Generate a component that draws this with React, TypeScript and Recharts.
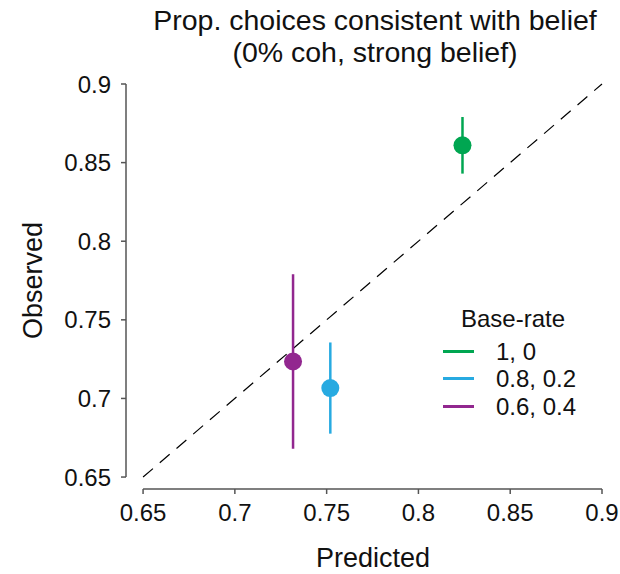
import React from 'react';
import {
  ComposedChart, Scatter, ErrorBar, XAxis, YAxis, ReferenceLine, Label,
} from 'recharts';

const seriesNames = ['1, 0', '0.8, 0.2', '0.6, 0.4'];
const seriesColors = ['#00a651', '#27aae1', '#92278f'];
const predicted = [0.824, 0.752, 0.7317];
const observed = [0.861, 0.7066, 0.7235];
const errors = [0.018, 0.029, 0.0555];

const xTicks = [0.65, 0.7, 0.75, 0.8, 0.85, 0.9];
const yTicks = [0.65, 0.7, 0.75, 0.8, 0.85, 0.9];
// axis lines sit a little outside the data range, like the original figure
const xMin = 0.6407;
const yMin = 0.6424;

const font = 'Liberation Sans, Arial, Helvetica, sans-serif';
const axisColor = '#555';

const dot = (props: any) => <circle cx={props.cx} cy={props.cy} r={9} fill={props.fill} />;

function BaseRateLegend() {
  return (
    <div style={{
      position: 'absolute', left: 443, top: 305, fontFamily: font, fontSize: 24,
      color: '#111', lineHeight: '27.5px',
    }}>
      <div style={{ paddingLeft: 18 }}>Base-rate</div>
      <div style={{ height: 5 }} />
      {seriesNames.map((n, i) => (
        <div key={n} style={{ display: 'flex', alignItems: 'center' }}>
          <span style={{ display: 'inline-block', width: 31, height: 3, background: seriesColors[i], marginRight: 22 }} />
          <span>{n}</span>
        </div>
      ))}
    </div>
  );
}

export default function App() {
  return (
    <div style={{ position: 'absolute', left: 0, top: 0, width: 620, height: 574, background: '#fff' }}>
      <div style={{
        position: 'absolute', left: 130, width: 490, top: 4, textAlign: 'center',
        fontFamily: font, fontSize: 28.5, lineHeight: '32px', color: '#111', zIndex: 2,
      }}>
        Prop. choices consistent with belief<br />(0% coh, strong belief)
      </div>
      <ComposedChart width={620} height={574} margin={{ top: 84, right: 18, left: 26, bottom: 45 }}>
        <XAxis
          type="number" dataKey="x" domain={[xMin, 0.9]} ticks={xTicks} allowDataOverflow
          axisLine={false} tickLine={{ stroke: axisColor, strokeWidth: 1.5 }} tickSize={5} tickMargin={10}
          tick={{ fontSize: 24, fill: '#111', fontFamily: font }} height={40}
          tickFormatter={(v) => String(v)}
        >
          <Label value="Predicted" position="insideBottom" offset={-38} dx={9}
            style={{ fontSize: 27, fill: '#111', fontFamily: font }} />
        </XAxis>
        <YAxis
          type="number" dataKey="y" domain={[yMin, 0.9]} ticks={yTicks} allowDataOverflow
          axisLine={false} tickLine={{ stroke: axisColor, strokeWidth: 1.5 }} tickSize={5} tickMargin={10}
          tick={{ fontSize: 24, fill: '#111', fontFamily: font }} width={100}
          tickFormatter={(v) => String(v)}
        >
          <Label value="Observed" angle={-90} position="insideLeft" offset={6} dy={-6}
            style={{ fontSize: 27, fill: '#111', fontFamily: font, textAnchor: 'middle' }} />
        </YAxis>
        <ReferenceLine segment={[{ x: 0.65, y: yMin }, { x: 0.9, y: yMin }]} stroke={axisColor} strokeWidth={1.5} ifOverflow="visible" />
        <ReferenceLine segment={[{ x: xMin, y: 0.65 }, { x: xMin, y: 0.9 }]} stroke={axisColor} strokeWidth={1.5} ifOverflow="visible" />
        <ReferenceLine segment={[{ x: 0.65, y: 0.65 }, { x: 0.9, y: 0.9 }]} stroke="#000" strokeWidth={1.2} strokeDasharray="13 9" ifOverflow="visible" />
        {seriesNames.map((n, i) => (
          <Scatter
            key={n} name={n} data={[{ x: predicted[i], y: observed[i], err: errors[i] }]}
            fill={seriesColors[i]} shape={dot} isAnimationActive={false}
          >
            <ErrorBar dataKey="err" direction="y" width={0} stroke={seriesColors[i]} strokeWidth={2.5} isAnimationActive={false} />
          </Scatter>
        ))}
      </ComposedChart>
      <BaseRateLegend />
    </div>
  );
}
